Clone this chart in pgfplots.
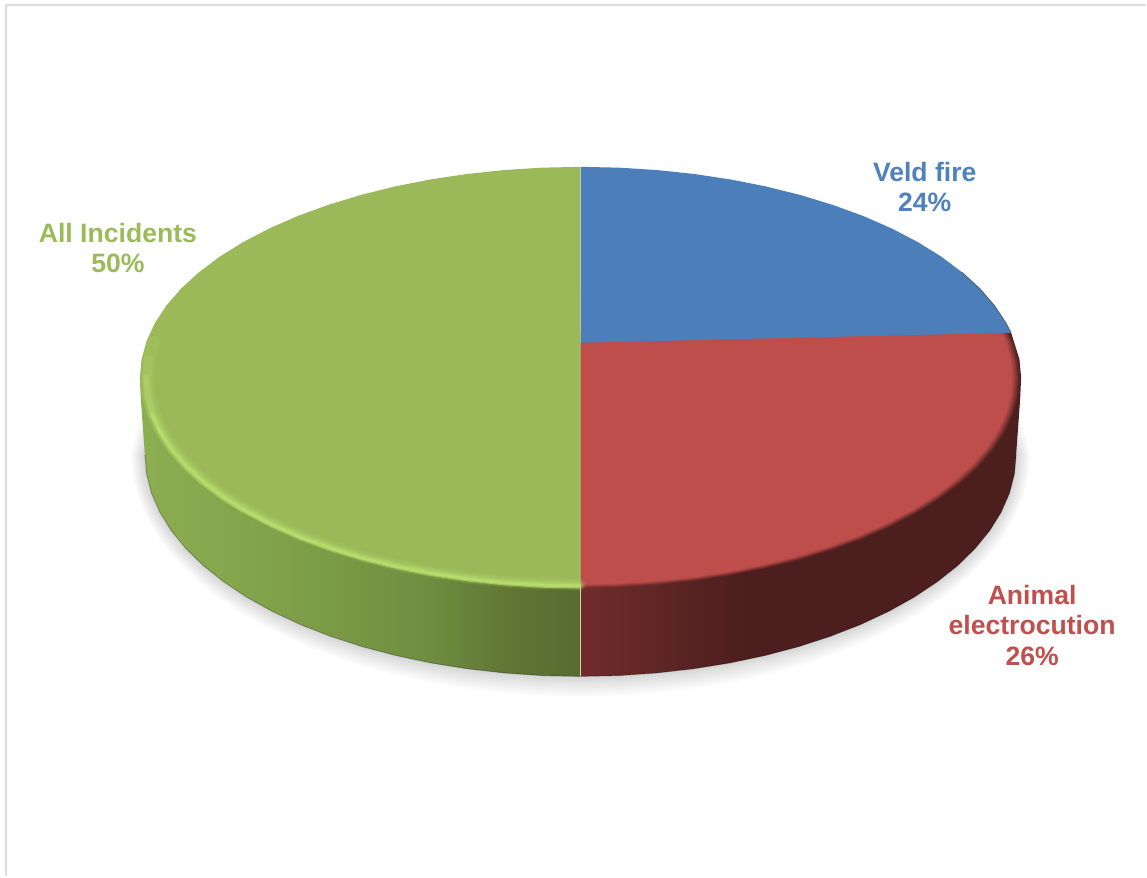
\documentclass[border=0pt]{standalone}
\usepackage{pgfplots}
\pgfplotsset{compat=1.18}
\usepackage{pgfplotstable}
\usepackage{fontspec}
\setmainfont{Liberation Sans}

\definecolor{faceblue}{HTML}{4C7EBA}
\definecolor{facered}{HTML}{BE4E4B}
\definecolor{facegreen}{HTML}{9BB959}
\definecolor{labelblue}{HTML}{4F81BD}
\definecolor{labelred}{HTML}{C0504D}
\definecolor{labelgreen}{HTML}{9BBB59}
\definecolor{framegray}{HTML}{DDDDDD}
\definecolor{glow}{HTML}{C8F47A}
\definecolor{seam}{HTML}{D6CDBE}
\definecolor{gwa}{HTML}{8BAE52}
\definecolor{gwb}{HTML}{7E9F48}
\definecolor{gwc}{HTML}{6F8D40}
\definecolor{gwd}{HTML}{617836}
\definecolor{gwe}{HTML}{586B31}
\definecolor{rwa}{HTML}{702C2B}
\definecolor{rwb}{HTML}{602726}
\definecolor{rwc}{HTML}{4C1E1D}
\pgfdeclarehorizontalshading{greenwall}{100bp}{color(0bp)=(gwa); color(26bp)=(gwa); color(43bp)=(gwb); color(58bp)=(gwc); color(66bp)=(gwd); color(75bp)=(gwe); color(100bp)=(gwe)}
\pgfdeclarehorizontalshading{redwall}{100bp}{color(0bp)=(rwa); color(25bp)=(rwa); color(33bp)=(rwb); color(44bp)=(rwc); color(100bp)=(rwc)}

% Top face outline of the "All Incidents" slice, running clockwise from the front
\pgfplotstableread{
x y
581 589
542.6 588.2
504.4 585.8
466.9 581.8
430.2 576.3
394.6 569.2
360.5 560.7
328.1 550.8
297.5 539.6
269.2 527.2
243.2 513.6
219.7 499.0
199.1 483.5
181.3 467.2
166.6 450.2
155 432.6
146.7 414.6
141.7 396.4
140 378
141.7 359.6
146.7 341.4
155 323.4
166.6 305.8
181.3 288.8
199.1 272.5
219.7 257
243.2 242.4
269.2 228.8
297.5 216.4
328.1 205.2
360.5 195.3
394.6 186.8
430.2 179.7
466.9 174.2
504.4 170.2
542.6 167.8
581 167
}\greenface

% Top face of the "Animal electrocution" slice; its upper part lies under the blue slice
\pgfplotstableread{
x y
581 330
995.4 305.8
1007 323.4
1015.3 341.4
1020.3 359.6
1022 378
1020.3 396.4
1015.3 414.6
1007 432.6
995.4 450.2
980.7 467.2
962.9 483.5
942.3 499
918.8 513.6
892.8 527.2
864.5 539.6
833.9 550.8
801.5 560.7
767.4 569.2
731.8 576.3
695.1 581.8
657.6 585.8
619.4 588.2
581 589
}\redface

% Top face of the "Veld fire" slice
\pgfplotstableread{
x y
581 343
581 167
619.4 167.8
657.6 170.2
695.1 174.2
731.8 179.7
767.4 186.8
801.5 195.3
833.9 205.2
864.5 216.4
892.8 228.8
918.8 242.4
942.3 257
962.9 272.5
980.7 288.8
995.4 305.8
1007 323.4
1012 333
}\blueface

% Lower outline of the disc, left to right, then closed behind the disc for the shadow
\pgfplotstableread{
x y
145 455
146.7 474.3
151.6 493.5
159.9 512.5
171.3 530.9
185.9 548.8
203.4 566
223.9 582.3
247 597.7
272.7 612
300.7 625.1
331 636.9
363 647.3
396.7 656.2
431.9 663.6
468.2 669.4
505.3 673.6
543 676.2
581 677
619 676.2
656.7 673.6
693.8 669.4
730.1 663.6
765.3 656.2
799 647.3
831 636.9
861.3 625.1
889.3 612
915 597.7
938.1 582.3
958.6 566
976.1 548.8
990.7 530.9
1002.1 512.5
1010.4 493.5
1015.3 474.3
1017 455
1000 395
950 350
581 300
212 350
162 395
}\discfoot

\newcommand{\shadowlayer}[2]{%
  \addplot[fill=black,fill opacity=0.02,draw=none]
    table[x expr={581+#1*(\thisrow{x}-581)},y expr={455+#2*(\thisrow{y}-455)}]{\discfoot} -- cycle;}
\newcommand{\redlayer}[2]{%
  \addplot[fill=facered,fill opacity=#2,draw=none]
    table[x expr={581+#1*(\thisrow{x}-581)},y expr={378+#1*(\thisrow{y}-378)}]{\redface} -- cycle;}
\newcommand{\rimglow}[4]{%
  \addplot[draw=glow,draw opacity=#2,line width=#1,line cap=round,line join=round,
    skip coords between index={#3}{40}]
    table[x expr={581+#4*(\thisrow{x}-581)},y expr={378+#4*(\thisrow{y}-378)}]{\greenface};}

\begin{document}
\begin{tikzpicture}
\begin{axis}[
  scale only axis,
  width=1147pt,
  height=877pt,
  xmin=0, xmax=1147,
  ymin=0, ymax=877,
  y dir=reverse,
  axis lines=none,
  clip=false,
  no markers,
]
% page background and thin frame
\addplot[fill=white,draw=none] coordinates {(0,0)(1147,0)(1147,877)(0,877)} -- cycle;
\addplot[draw=framegray,line width=2pt] coordinates {(6.5,877)(6.5,5.5)(1147,5.5)};

% soft shadow below the disc
\shadowlayer{1.032}{1.090}
\shadowlayer{1.028}{1.078}
\shadowlayer{1.024}{1.066}
\shadowlayer{1.020}{1.054}
\shadowlayer{1.016}{1.042}
\shadowlayer{1.012}{1.030}
\shadowlayer{1.008}{1.020}
\shadowlayer{1.004}{1.010}

% side walls
\addplot[shade,shading=greenwall,draw=none] coordinates {
  (581,677)(543,676.2)(505.3,673.6)(468.2,669.4)(431.9,663.6)(396.7,656.2)(363,647.3)
  (331,636.9)(300.7,625.1)(272.7,612)(247,597.7)(223.9,582.3)(203.4,566)(185.9,548.8)
  (171.3,530.9)(159.9,512.5)(151.6,493.5)(146.7,474.3)(145,455)(141,400)(140,378)(581,378)
} -- cycle;
\addplot[shade,shading=redwall,draw=none] coordinates {
  (581,677)(619,676.2)(656.7,673.6)(693.8,669.4)(730.1,663.6)(765.3,656.2)(799,647.3)
  (831,636.9)(861.3,625.1)(889.3,612)(915,597.7)(938.1,582.3)(958.6,566)(976.1,548.8)
  (990.7,530.9)(1002.1,512.5)(1010.4,493.5)(1015.3,474.3)(1017,455)(1021,400)(1022,378)
  (1020.3,359.6)(1012,333)(581,333)
} -- cycle;
% darker lower edge of the walls
\addplot[draw=black,draw opacity=0.28,line width=0.9pt,skip coords between index={37}{42}] table {\discfoot};

% red top face, edge softened into the wall
\redlayer{0.9975}{0.15}
\redlayer{0.9940}{0.22}
\redlayer{0.9905}{0.30}
\redlayer{0.9870}{0.42}
\redlayer{0.9835}{0.60}
\redlayer{0.9800}{1}

% green top face with its rim highlight
\addplot[fill=facegreen,draw=none] table {\greenface} -- cycle;
\addplot[draw=gwc,draw opacity=0.30,line width=2pt,skip coords between index={11}{40}] table {\greenface};
\rimglow{12pt}{0.07}{21}{0.982}
\rimglow{9pt}{0.12}{20}{0.984}
\rimglow{6pt}{0.22}{19}{0.986}
\rimglow{3pt}{0.38}{17}{0.988}

% blue top face
\addplot[fill=faceblue,draw=none] table {\blueface} -- cycle;
\addplot[draw=black,draw opacity=0.45,line width=0.7pt,skip coords between index={0}{13}] table {\blueface};

% slice seams
\addplot[draw=white,draw opacity=0.35,line width=0.7pt] coordinates {(581,167)(581,343)};
\addplot[draw=white,draw opacity=0.15,line width=0.7pt] coordinates {(581,343)(581,589)};
\addplot[draw=seam,line width=0.8pt] coordinates {(581,589)(581,677)};

% data labels
\node[align=center,text=labelblue,font=\fontsize{26.6}{30.5}\selectfont\bfseries]  at (axis cs:925.5,187) {Veld fire\\24\%};
\node[align=center,text=labelred,font=\fontsize{26.6}{30.5}\selectfont\bfseries]   at (axis cs:1033,626) {Animal\\electrocution\\26\%};
\node[align=center,text=labelgreen,font=\fontsize{26.6}{30.5}\selectfont\bfseries] at (axis cs:118,248) {All Incidents\\50\%};
\end{axis}
\end{tikzpicture}
\end{document}
